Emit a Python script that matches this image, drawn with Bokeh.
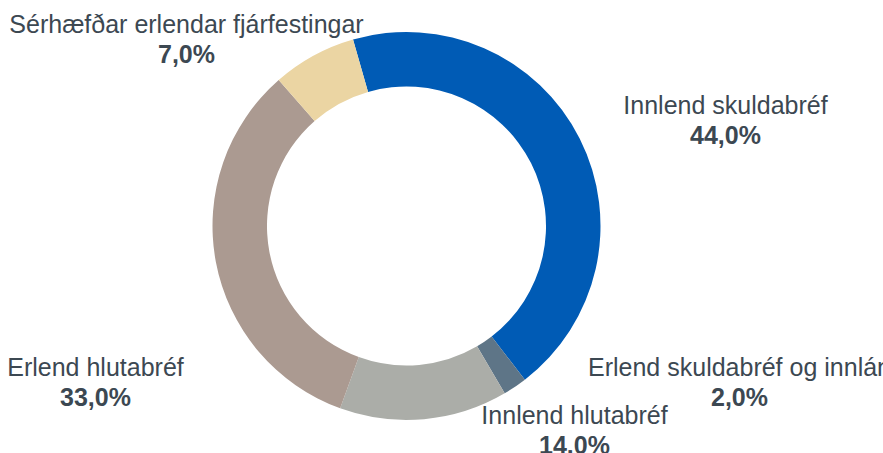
import math
from bokeh.plotting import figure
from bokeh.models import Range1d, ColumnDataSource
from bokeh.core.properties import value
from bokeh.embed import file_html
from bokeh.resources import INLINE

# ---- data ----
categories = ["Innlend skuldabréf", "Erlend skuldabréf og innlán", "Innlend hlutabréf",
              "Erlend hlutabréf", "Sérhæfðar erlendar fjárfestingar"]
shares = [44.0, 2.0, 14.0, 33.0, 7.0]
value_labels = ["44,0%", "2,0%", "14.0%", "33,0%", "7,0%"]
colors = ["#005BB5", "#5E7587", "#ABADA8", "#AB9A91", "#EBD5A3"]

# ---- layout (screen pixels of the 883x453 window) ----
W, H = 883, 453
cx, cy = 406, H - 225.5
r_out, r_in = 194, 139.5
start_from_top = -16.0  # degrees, clockwise from 12 o'clock
label_x = [725, 739, 574, 95, 186]
label_base_y = [104, 366, 414, 366, 23]  # screen position of the name line
line_gap = 30
text_color = "#3C4852"

total = sum(shares)
starts, ends = [], []
acc = start_from_top
for s in shares:
    a0 = acc
    a1 = acc + s / total * 360.0
    starts.append(math.radians(90 - a0))
    ends.append(math.radians(90 - a1))
    acc = a1

src = ColumnDataSource(dict(start=starts, end=ends, color=colors))

p = figure(width=W, height=H, output_backend="svg", toolbar_location=None,
           x_range=Range1d(0, W), y_range=Range1d(0, H),
           min_border=0, outline_line_color=None)
p.axis.visible = False
p.grid.visible = False
p.background_fill_color = "white"
p.border_fill_color = "white"

p.annular_wedge(x=cx, y=cy, inner_radius=r_in, outer_radius=r_out,
                start_angle="start", end_angle="end", direction="clock",
                color="color", line_color=None, source=src)

lab = ColumnDataSource(dict(
    x=label_x,
    y1=[H - b for b in label_base_y],
    y2=[H - b - line_gap for b in label_base_y],
    name=categories, val=value_labels))

p.text(x="x", y="y1", text="name", source=lab, text_align="center",
       text_baseline="alphabetic", text_font=value("Liberation Sans"),
       text_font_size="25px", text_color=text_color)
p.text(x="x", y="y2", text="val", source=lab, text_align="center",
       text_baseline="alphabetic", text_font=value("Liberation Sans"),
       text_font_size="25px", text_font_style="bold", text_color=text_color)

open("out.html", "w").write(file_html(p, INLINE))
